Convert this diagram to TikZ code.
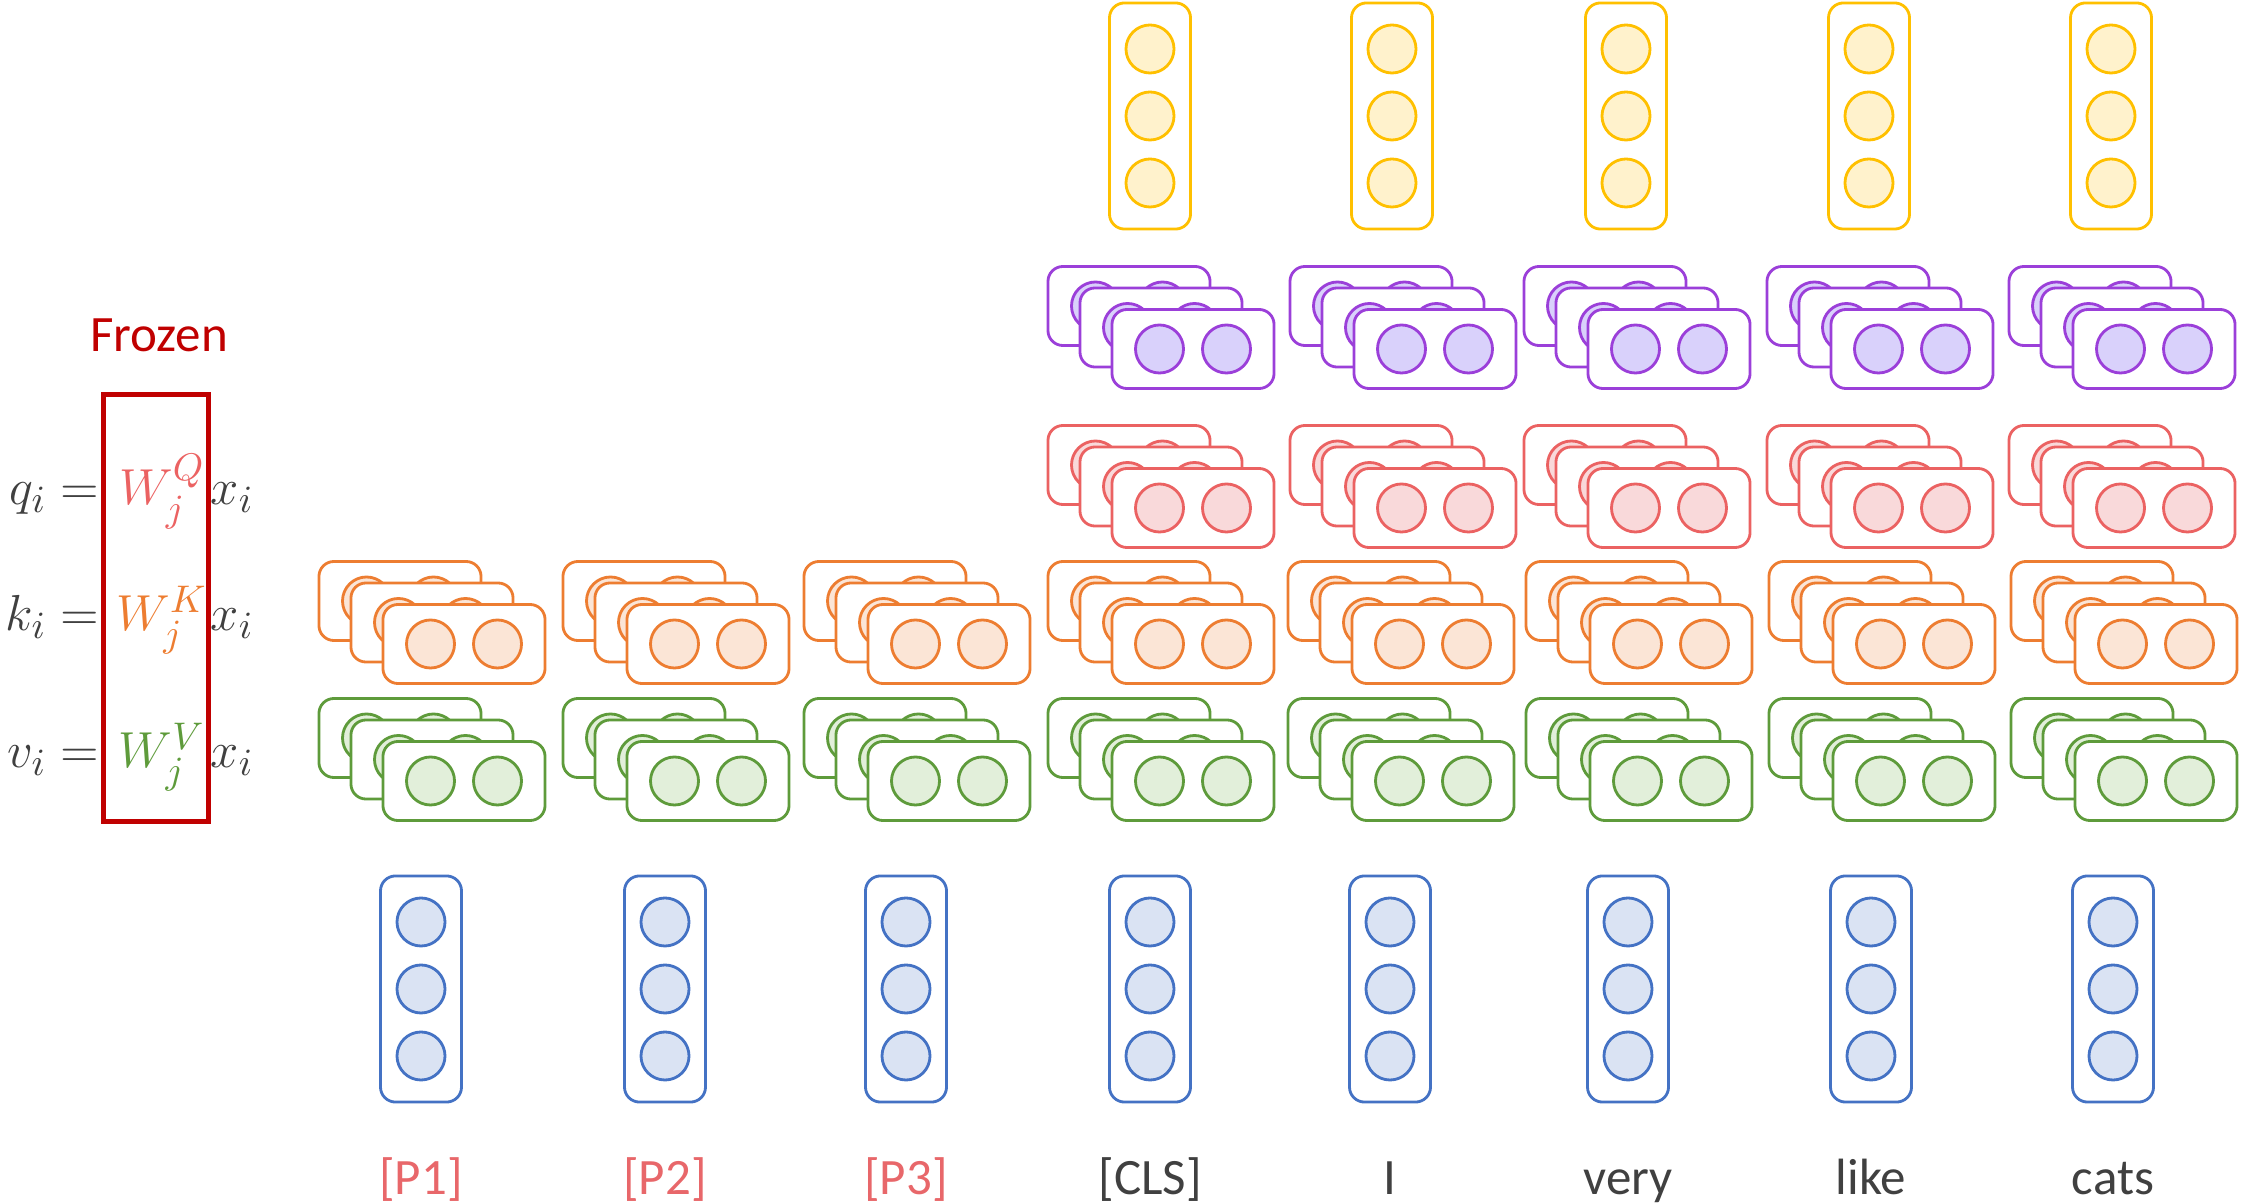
\documentclass[tikz,border=0pt]{standalone}
\usepackage{fontspec}
\setmainfont{Carlito}
\usepackage{amsmath}
\usepackage{xcolor}
\usepackage{tikz}
\usetikzlibrary{positioning}

\definecolor{ylwline}{HTML}{FFC000}
\definecolor{ylwfill}{HTML}{FFF2CC}
\definecolor{purline}{HTML}{9B3FD9}
\definecolor{purfill}{HTML}{D9D1FB}
\definecolor{redline}{HTML}{EB6262}
\definecolor{redfill}{HTML}{F9D9DA}
\definecolor{orgline}{HTML}{ED7D31}
\definecolor{orgfill}{HTML}{FBE5D6}
\definecolor{grnline}{HTML}{5E9B3B}
\definecolor{grnfill}{HTML}{E2EFDA}
\definecolor{bluline}{HTML}{4472C4}
\definecolor{blufill}{HTML}{DAE3F3}
\definecolor{txtgray}{HTML}{404040}
\definecolor{promptred}{HTML}{E8676A}
\definecolor{frozenred}{HTML}{C00000}

% three offset cards of one head row: #1 x, #2 y of the back card, #3 colour, #4 name
\newcommand{\cardstack}[4]{%
  \foreach \k in {0,1,2} {
    \node[card, draw=#3line] (#4-\k) at ({#1+32*\k},{#2+21.5*\k}) {};
    \node[dot, draw=#3line, fill=#3fill] (#4-\k-a) at ({#1+32*\k-33.5},{#2+21.5*\k}) {};
    \node[dot, draw=#3line, fill=#3fill] (#4-\k-b) at ({#1+32*\k+33.5},{#2+21.5*\k}) {};
  }%
}

\begin{document}
\begin{tikzpicture}[
  x=0.01cm, y=-0.01cm,
  card/.style={rectangle, fill=white, rounded corners=0.15cm, line width=0.8pt,
               minimum width=1.62cm, minimum height=0.79cm, inner sep=0pt},
  vecbox/.style={rectangle, fill=white, rounded corners=0.15cm, line width=0.8pt,
                 minimum width=0.81cm, minimum height=2.26cm, inner sep=0pt},
  dot/.style={circle, line width=0.8pt, minimum size=0.48cm, inner sep=0pt},
  word/.style={anchor=base, inner sep=0pt, font=\fontsize{14.5}{17}\selectfont},
  eq/.style={inner sep=0pt, text=txtgray, font=\fontsize{15.5}{19}\selectfont}
]
\useasboundingbox (0,0) rectangle (2242,1204);
%% ── Frozen projection matrices (left) ───────────────────────────────────
\node[word, text=frozenred] (frozen) at (159,352) {Frozen};
\node[rectangle, draw=frozenred, line width=1.35pt,
      minimum width=1.05cm, minimum height=4.27cm] (frame) at (156,608) {};
\foreach \lt/\ix/\wc/\by in {q/Q/redline/505, k/K/orgline/631, v/V/grnline/768} {
  \node[eq, anchor=base east] (\lt-lhs) at (100,\by) {$\lt_i =$};
  \node[eq, anchor=base, text=\wc] (\lt-w) at (162,\by) {$W_j^{\ix}$};
  \node[eq, anchor=base west] (\lt-x) at (210,\by) {$x_i$};
}
%% ── Input vectors, key / value cards and tokens (all columns) ───────────
\foreach \cx/\nm/\txt/\tc in {421/p1/{[P1]}/promptred, 665/p2/{[P2]}/promptred,
    906/p3/{[P3]}/promptred, 1150/cls/{[CLS]}/txtgray, 1390/i/{I}/txtgray,
    1628/very/{very}/txtgray, 1871/like/{like}/txtgray, 2113/cats/{cats}/txtgray} {
  \node[vecbox, draw=bluline] (in-\nm) at (\cx,989) {};
  \foreach \cy [count=\j] in {922,989,1056}
    \node[dot, draw=bluline, fill=blufill] (in-\nm-\j) at (\cx,\cy) {};
  \cardstack{\cx-21}{601}{org}{k-\nm}
  \cardstack{\cx-21}{738}{grn}{v-\nm}
  \node[word, text=\tc] (tok-\nm) at (\cx,1195) {\txt};
}
%% ── Query / output cards and outputs (sentence columns only) ────────────
\foreach \cx/\nm in {1150/cls, 1392/i, 1626/very, 1869/like, 2111/cats} {
  \cardstack{\cx-21}{306}{pur}{o-\nm}
  \cardstack{\cx-21}{465}{red}{q-\nm}
  \node[vecbox, draw=ylwline] (out-\nm) at (\cx,116) {};
  \foreach \cy [count=\j] in {49,116,183}
    \node[dot, draw=ylwline, fill=ylwfill] (out-\nm-\j) at (\cx,\cy) {};
}
\end{tikzpicture}
\end{document}
